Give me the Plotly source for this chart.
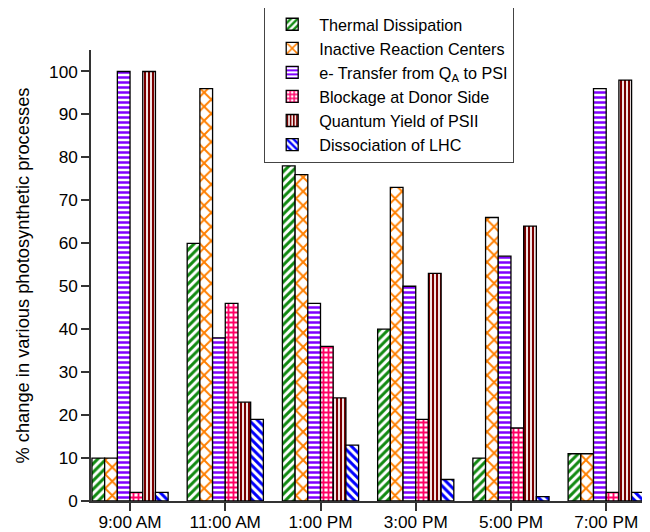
import plotly.graph_objects as go

times = ["9:00 AM", "11:00 AM", "1:00 PM", "3:00 PM", "5:00 PM", "7:00 PM"]

thermal_dissipation = [10, 60, 78, 40, 10, 11]
inactive_rc = [10, 96, 76, 73, 66, 11]
e_transfer = [100, 38, 46, 50, 57, 96]
blockage_donor = [2, 46, 36, 19, 17, 2]
quantum_yield = [100, 23, 24, 53, 64, 98]
dissociation_lhc = [2, 19, 13, 5, 1, 2]

y_title = "% change in various photosynthetic processes"

series = [
    ("Thermal Dissipation", thermal_dissipation, "/", "#118a11", "white", 6, 0.5),
    ("Inactive Reaction Centers", inactive_rc, "x", "#ff7f00", "white", 10, 0.35),
    ("e- Transfer from Q<sub>A</sub> to PSI", e_transfer, "-", "#7f00ff", "white", 5, 0.5),
    ("Blockage at Donor Side", blockage_donor, "+", "#ff0066", "white", 5, 0.6),
    ("Quantum Yield of PSII", quantum_yield, "|", "#7a0000", "white", 4, 0.55),
    ("Dissociation of LHC", dissociation_lhc, "\\", "#0000ff", "white", 6, 0.5),
]

fig = go.Figure()
for name, vals, shape, fg, bg, size, sol in series:
    fig.add_trace(go.Bar(
        x=times, y=vals, name=name,
        marker=dict(
            color=bg,
            line=dict(color="black", width=1.3),
            pattern=dict(shape=shape, fgcolor=fg, bgcolor=bg, size=size,
                         solidity=sol, fillmode="overlay", fgopacity=1),
        ),
    ))

fig.update_layout(
    width=650, height=532,
    margin=dict(l=83, r=8, t=42, b=39, autoexpand=False),
    paper_bgcolor="white", plot_bgcolor="white",
    font=dict(family="Liberation Sans, Arial, sans-serif", color="black", size=17),
    barmode="group", bargap=0.2, bargroupgap=0,
    showlegend=True,
    legend=dict(
        x=0.3095, y=1.0975, xanchor="left", yanchor="top",
        bgcolor="white", bordercolor="#444", borderwidth=1.2,
        font=dict(size=16.2), tracegroupgap=0, itemwidth=44,
        entrywidth=280, entrywidthmode="pixels",
    ),
    annotations=[dict(
        text=y_title, textangle=-90, xref="paper", yref="paper",
        x=-0.1234, y=0.5, xanchor="center", yanchor="middle",
        showarrow=False, font=dict(size=18.3),
    )],
)
fig.update_xaxes(
    type="category", range=[-0.41, 5.46],
    showline=True, linecolor="#333", linewidth=1.5,
    ticks="outside", ticklen=8, tickcolor="#333", tickwidth=1.5,
    tickfont=dict(size=17.2), showgrid=False, zeroline=False,
    ticklabelstandoff=-3,
)
fig.update_yaxes(
    range=[0, 105], dtick=10, tick0=0,
    showline=True, linecolor="#333", linewidth=1.5,
    ticks="outside", ticklen=8, tickcolor="#333", tickwidth=1.5,
    tickfont=dict(size=17.2), showgrid=False, zeroline=False,
)

fig.write_html("out.html")
